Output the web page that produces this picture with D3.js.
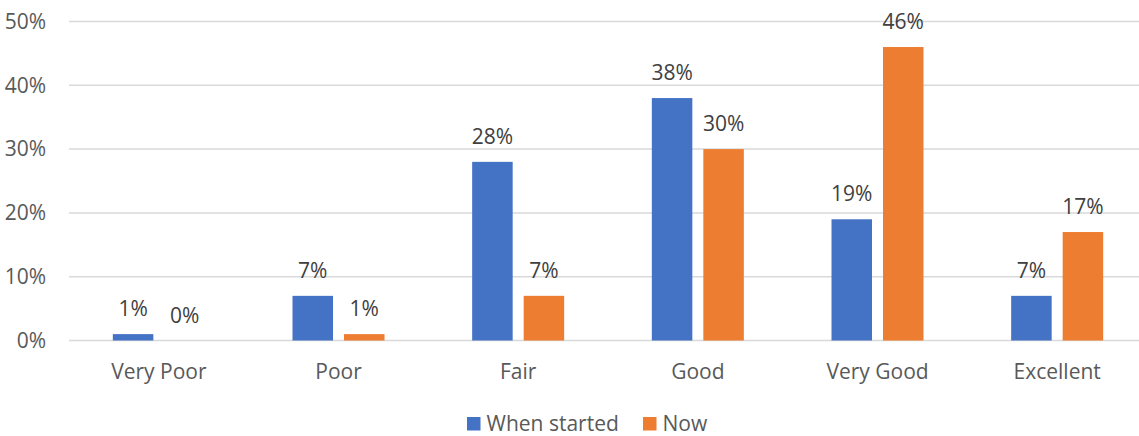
<!DOCTYPE html>
<html>
<head>
<meta charset="utf-8">
<script src="https://cdn.jsdelivr.net/npm/d3@7"></script>
<style>
  html, body { margin: 0; padding: 0; background: #fff; }
  svg { display: block; font-family: "Open Sans", "Noto Sans", sans-serif; }
</style>
</head>
<body>
<svg id="chart" width="1139" height="436"></svg>
<script>
// Self-rated condition, share of respondents (%)
const categories = ["Very Poor", "Poor", "Fair", "Good", "Very Good", "Excellent"];
const seriesNames = ["When started", "Now"];
const whenStarted = [1, 7, 28, 38, 19, 7];
const now = [0, 1, 7, 30, 46, 17];
const yTicks = [0, 10, 20, 30, 40, 50];
const colors = ["#4472C4", "#ED7D31"];

const values = [whenStarted, now];
const rows = categories.map((c, i) => ({
  category: c,
  items: seriesNames.map((s, j) => ({ series: s, value: values[j][i] }))
}));

const fontSize = "21px";
const svg = d3.select("#chart");
const plot = { left: 69, right: 1147, top: 21.5, bottom: 340.5 };

const x0 = d3.scaleBand().domain(categories).range([plot.left, plot.right]);
const groupInset = (x0.bandwidth() - 92) / 2;
const x1 = d3.scaleBand().domain(seriesNames)
  .range([groupInset, x0.bandwidth() - groupInset])
  .paddingInner(11 / 51.5).paddingOuter(0);
const y = d3.scaleLinear().domain([0, 50]).range([plot.bottom, plot.top]);
const color = d3.scaleOrdinal().domain(seriesNames).range(colors);

// Horizontal gridlines
svg.append("g")
  .selectAll("line")
  .data(yTicks)
  .join("line")
  .attr("x1", plot.left)
  .attr("x2", 1139)
  .attr("y1", d => y(d))
  .attr("y2", d => y(d))
  .attr("stroke", "#D9D9D9")
  .attr("stroke-width", 1.5);

// Y axis labels
const yAxis = d3.axisLeft(y).tickValues(yTicks).tickFormat(d => d + "%").tickSize(0).tickPadding(0);
const yg = svg.append("g").attr("transform", "translate(46,0)").call(yAxis);
yg.select(".domain").remove();
yg.selectAll("text")
  .attr("fill", "#595959")
  .style("font-size", fontSize)
  .style("font-family", "\"Open Sans\", sans-serif");

// X axis labels
const xAxis = d3.axisBottom(x0).tickSize(0).tickPadding(0);
const xg = svg.append("g").call(xAxis);
xg.select(".domain").remove();
xg.selectAll("text")
  .attr("y", 379)
  .attr("dy", 0)
  .attr("fill", "#595959")
  .style("font-size", fontSize)
  .style("font-family", "\"Open Sans\", sans-serif");

// Bars
const groups = svg.append("g")
  .selectAll("g")
  .data(rows)
  .join("g")
  .attr("transform", d => `translate(${x0(d.category)},0)`);

groups.selectAll("rect")
  .data(d => d.items)
  .join("rect")
  .attr("x", d => x1(d.series))
  .attr("width", x1.bandwidth())
  .attr("y", d => y(d.value))
  .attr("height", d => y(0) - y(d.value))
  .attr("fill", d => color(d.series));

// Value labels
groups.selectAll("text")
  .data(d => d.items)
  .join("text")
  .attr("x", d => x1(d.series) + x1.bandwidth() / 2)
  .attr("y", d => y(d.value) - 18)
  .attr("text-anchor", "middle")
  .attr("fill", "#404040")
  .style("font-size", fontSize)
  .text(d => d.value + "%");

// Legend
const legendItems = [
  { name: seriesNames[0], x: 467 },
  { name: seriesNames[1], x: 643 }
];
const legend = svg.append("g");
legendItems.forEach(item => {
  legend.append("rect")
    .attr("x", item.x).attr("y", 417)
    .attr("width", 13.5).attr("height", 13.5)
    .attr("fill", color(item.name));
  legend.append("text")
    .attr("x", item.x + 19.5).attr("y", 430.5)
    .attr("fill", "#595959")
    .style("font-size", fontSize)
    .text(item.name);
});
</script>
</body>
</html>
